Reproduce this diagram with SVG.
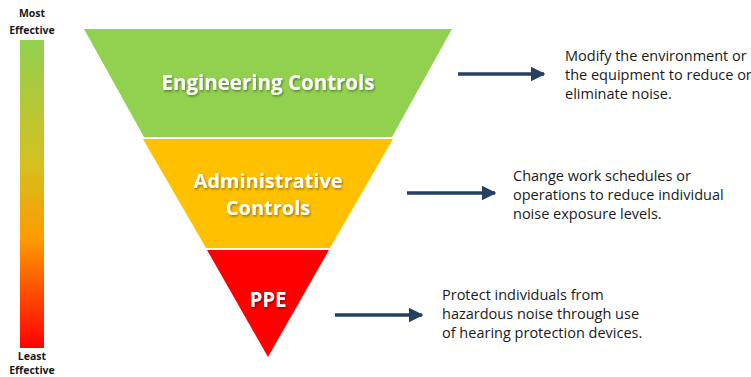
<svg xmlns="http://www.w3.org/2000/svg" width="751" height="377" viewBox="0 0 751 377">
<style>
.lvl{font-family:"Open Sans","Liberation Sans",sans-serif;font-weight:bold;fill:#ffffff;text-anchor:middle}
.desc{font-family:"Open Sans","Liberation Sans",sans-serif;font-size:14.5px;fill:#1a1a1a}
.axis{font-family:"Open Sans","Liberation Sans",sans-serif;font-size:10.5px;font-weight:bold;fill:#1a1a1a;text-anchor:middle}
.arr{stroke:#243F60;stroke-width:3.5;fill:none}
</style>
<defs>
<linearGradient id="eff" x1="0" y1="0" x2="0" y2="1">
<stop offset="0" stop-color="#92D050"/>
<stop offset="0.4" stop-color="#D4C020"/>
<stop offset="0.65" stop-color="#FF9900"/>
<stop offset="1" stop-color="#FF0000"/>
</linearGradient>
<filter id="sh" x="-10%" y="-30%" width="120%" height="160%">
<feDropShadow dx="1" dy="1.5" stdDeviation="1" flood-color="#000" flood-opacity="0.4"/>
</filter>
<marker id="ah" viewBox="0 0 10 10" refX="9" refY="5" markerWidth="4.2" markerHeight="4.2" orient="auto" markerUnits="strokeWidth">
<path d="M0,0 L10,5 L0,10 z" fill="#243F60"/>
</marker>
</defs>
<g id="scale">
<rect x="20" y="40" width="24" height="308" fill="url(#eff)"/>
<text class="axis" x="32" y="17">Most</text>
<text class="axis" x="32" y="34">Effective</text>
<text class="axis" x="32" y="360">Least</text>
<text class="axis" x="32" y="374">Effective</text>
</g>
<g id="engineering">
<polygon points="84,29 452,29 392,137 144,137" fill="#92D050"/>
<text class="lvl" x="268" y="90" font-size="20.5" filter="url(#sh)">Engineering Controls</text>
</g>
<g id="administrative">
<polygon points="143,139 393,139 330,248 206,248" fill="#FFC000"/>
<text class="lvl" x="268" y="188" font-size="20" filter="url(#sh)">Administrative</text>
<text class="lvl" x="268" y="215" font-size="20" filter="url(#sh)">Controls</text>
</g>
<g id="ppe">
<polygon points="207,250 329,250 268,357" fill="#FF0000"/>
<text class="lvl" x="268" y="307" font-size="20.5" filter="url(#sh)">PPE</text>
</g>
<g id="connectors">
<line class="arr" x1="458" y1="74" x2="544" y2="74" marker-end="url(#ah)"/>
<line class="arr" x1="407" y1="193" x2="495" y2="193" marker-end="url(#ah)"/>
<line class="arr" x1="335" y1="315" x2="422" y2="315" marker-end="url(#ah)"/>
</g>
<g id="desc-engineering">
<text class="desc" x="565" y="61">Modify the environment or</text>
<text class="desc" x="565" y="80">the equipment to reduce or</text>
<text class="desc" x="565" y="99">eliminate noise.</text>
</g>
<g id="desc-administrative">
<text class="desc" x="513" y="181">Change work schedules or</text>
<text class="desc" x="513" y="200">operations to reduce individual</text>
<text class="desc" x="513" y="219">noise exposure levels.</text>
</g>
<g id="desc-ppe">
<text class="desc" x="442" y="300">Protect individuals from</text>
<text class="desc" x="442" y="319">hazardous noise through use</text>
<text class="desc" x="442" y="338">of hearing protection devices.</text>
</g>
</svg>
